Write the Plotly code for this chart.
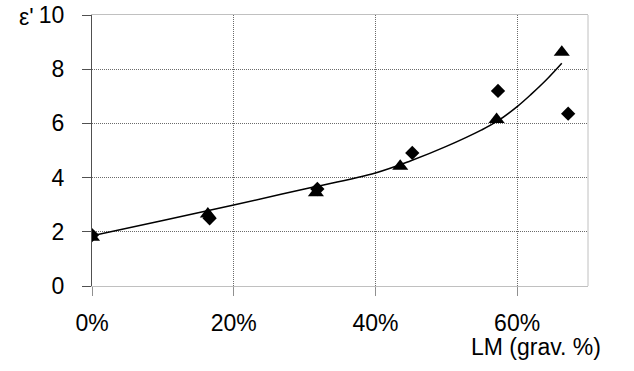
import plotly.graph_objects as go

# data (LM fraction, epsilon')
tri_x = [0.0, 0.1635, 0.316, 0.435, 0.571, 0.663]
tri_y = [1.80, 2.66, 3.44, 4.42, 6.14, 8.63]
dia_x = [0.0, 0.166, 0.318, 0.452, 0.573, 0.672]
dia_y = [1.88, 2.50, 3.58, 4.91, 7.20, 6.36]
fit_x = [0.0, 0.10, 0.20, 0.30, 0.40, 0.45, 0.50, 0.55, 0.572, 0.60, 0.62, 0.642, 0.663]
fit_y = [1.85, 2.42, 2.99, 3.58, 4.17, 4.62, 5.15, 5.76, 6.08, 6.62, 7.08, 7.63, 8.22]

x_ticks = [0.0, 0.2, 0.4, 0.6]
x_labels = ["0%", "20%", "40%", "60%"]
y_ticks = [0, 2, 4, 6, 8, 10]

FONT = "Liberation Sans, Arial, sans-serif"
FS = 23
GRID = "#6a6a6a"

W, H = 634, 371
ml, mt = 91.7, 15
pw, ph = 496, 271.3
mr = W - ml - pw
mb = H - mt - ph

fig = go.Figure()
fig.add_trace(go.Scatter(x=fit_x, y=fit_y, mode="lines",
                         line=dict(color="black", width=1.5, shape="spline", smoothing=1.0),
                         showlegend=False, hoverinfo="skip"))
fig.add_trace(go.Scatter(x=dia_x, y=dia_y, mode="markers",
                         marker=dict(symbol="diamond", size=11, color="black"),
                         showlegend=False))
fig.add_trace(go.Scatter(x=tri_x, y=tri_y, mode="markers",
                         marker=dict(symbol="triangle-up", size=14, color="black"),
                         showlegend=False))

def px_to_paper(px, py):
    return (px - ml) / pw, (H - mb - py) / ph

ax, ay = px_to_paper(16.5, 17)
bx, by = px_to_paper(536, 347)

fig.update_layout(
    width=W, height=H,
    margin=dict(l=ml, r=mr, t=mt, b=mb, pad=0),
    paper_bgcolor="white", plot_bgcolor="white",
    font=dict(family=FONT, size=FS, color="black"),
    xaxis=dict(range=[0, 0.70], tickvals=x_ticks, ticktext=x_labels, automargin=False,
               showgrid=True, gridcolor=GRID, griddash="1px,1px", gridwidth=1,
               zeroline=False, showline=True, linecolor="#c0c0c0", linewidth=1,
               mirror=True, ticks="outside", ticklen=9, tickcolor="#909090",
               ticklabelstandoff=7, tickfont=dict(size=FS, family=FONT)),
    yaxis=dict(range=[0, 10], tickvals=y_ticks, automargin=False,
               ticklabeloverflow="allow",
               showgrid=True, gridcolor=GRID, griddash="1px,1px", gridwidth=1,
               zeroline=False, showline=True, linecolor="#505050", linewidth=1,
               ticks="outside", ticklen=9, tickcolor="#505050",
               ticklabelstandoff=13, tickfont=dict(size=FS, family=FONT)),
    shapes=[dict(type="line", xref="x domain", yref="y domain", x0=1, x1=1, y0=0, y1=1,
                 line=dict(color="#c0c0c0", width=1), layer="above")],
    annotations=[
        dict(text="ε'", xref="paper", yref="paper", x=ax, y=ay, xanchor="left", yanchor="middle",
             showarrow=False, font=dict(size=FS, family=FONT)),
        dict(text="LM (grav. %)", xref="paper", yref="paper", x=bx, y=by,
             xanchor="center", yanchor="middle",
             showarrow=False, font=dict(size=FS, family=FONT)),
    ],
)

fig.write_html("out.html", config={"displayModeBar": False},
               post_script="document.body.style.margin='0';")
